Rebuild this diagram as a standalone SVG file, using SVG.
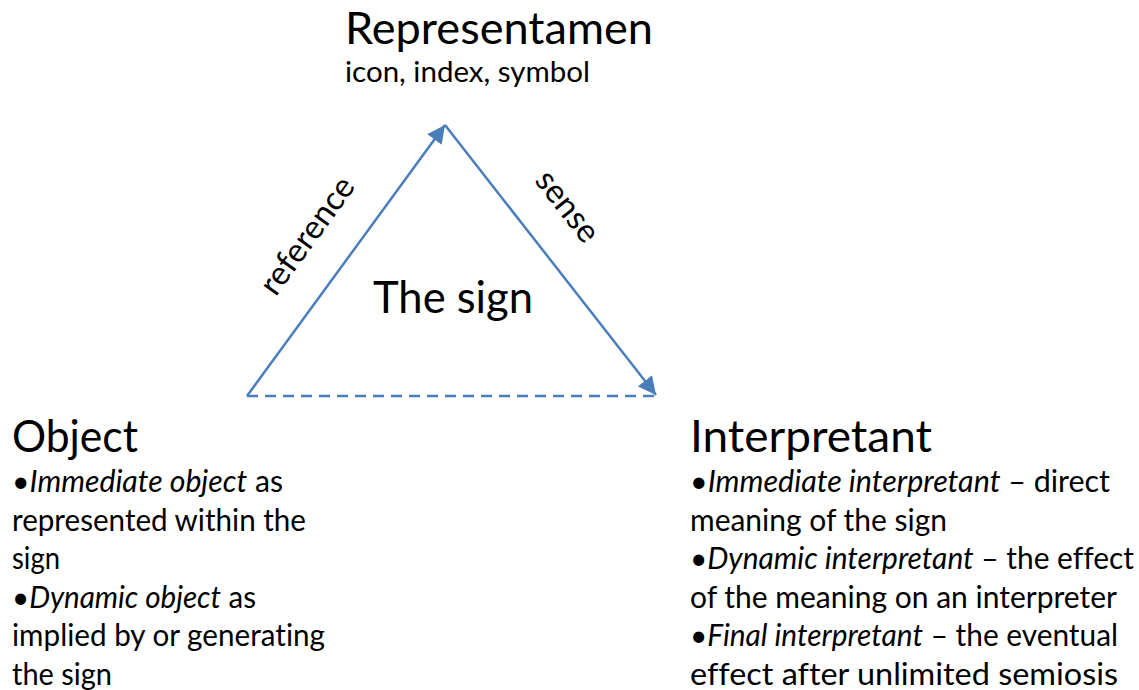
<svg xmlns="http://www.w3.org/2000/svg" width="1139" height="690" viewBox="0 0 1139 690">
<style>
text{font-family:Lato,"Open Sans",sans-serif;fill:#000;font-variant-ligatures:none}
.h{font-size:45px}
.b{font-size:30px}
.s{font-size:29px}
.l{font-size:33px}
.i{font-style:italic}
.c{stroke:#4a7ebb;stroke-width:2.5;fill:none}
</style>
<defs>
<marker id="ah2" viewBox="0 0 10 10" refX="10" refY="5" markerWidth="18" markerHeight="18" markerUnits="userSpaceOnUse" orient="auto"><path d="M0,0L10,5L0,10z" fill="#4a7ebb"/></marker>
</defs>
<rect width="1139" height="690" fill="#fff"/>
<g id="connectors">
<line class="c" x1="247" y1="396" x2="445" y2="125" marker-end="url(#ah2)"/>
<line class="c" x1="445" y1="125" x2="656" y2="395" marker-end="url(#ah2)"/>
<line class="c" x1="247" y1="396" x2="656" y2="396" stroke-dasharray="11,7" stroke-width="3"/>
<text class="l" transform="translate(316,242) rotate(-54)" text-anchor="middle">reference</text>
<text class="l" transform="translate(559,213) rotate(52)" text-anchor="middle">sense</text>
</g>
<g id="representamen">
<text class="h" x="345" y="44" textLength="308" lengthAdjust="spacingAndGlyphs">Representamen</text>
<text class="s" x="345" y="82" textLength="245" lengthAdjust="spacingAndGlyphs">icon, index, symbol</text>
</g>
<g id="sign">
<text class="h" x="373" y="313" textLength="160" lengthAdjust="spacingAndGlyphs">The sign</text>
</g>
<g id="object">
<text class="h" x="12" y="452" textLength="126" lengthAdjust="spacingAndGlyphs">Object</text>
<text class="b" x="12" y="492" textLength="271" lengthAdjust="spacingAndGlyphs">•<tspan class="i">Immediate object</tspan> as</text>
<text class="b" x="12" y="531" textLength="294" lengthAdjust="spacingAndGlyphs">represented within the</text>
<text class="b" x="12" y="569" textLength="48" lengthAdjust="spacingAndGlyphs">sign</text>
<text class="b" x="12" y="608" textLength="244" lengthAdjust="spacingAndGlyphs">•<tspan class="i">Dynamic object</tspan> as</text>
<text class="b" x="12" y="646" textLength="313" lengthAdjust="spacingAndGlyphs">implied by or generating</text>
<text class="b" x="12" y="685" textLength="100" lengthAdjust="spacingAndGlyphs">the sign</text>
</g>
<g id="interpretant">
<text class="h" x="690" y="452" textLength="242" lengthAdjust="spacingAndGlyphs">Interpretant</text>
<text class="b" x="690" y="492" textLength="420" lengthAdjust="spacingAndGlyphs">•<tspan class="i">Immediate interpretant</tspan> – direct</text>
<text class="b" x="690" y="531" textLength="257" lengthAdjust="spacingAndGlyphs">meaning of the sign</text>
<text class="b" x="690" y="569" textLength="444" lengthAdjust="spacingAndGlyphs">•<tspan class="i">Dynamic interpretant</tspan> – the effect</text>
<text class="b" x="690" y="608" textLength="427" lengthAdjust="spacingAndGlyphs">of the meaning on an interpreter</text>
<text class="b" x="690" y="646" textLength="428" lengthAdjust="spacingAndGlyphs">•<tspan class="i">Final interpretant</tspan> – the eventual</text>
<text class="b" x="690" y="685" textLength="428" lengthAdjust="spacingAndGlyphs">effect after unlimited semiosis</text>
</g>
</svg>
